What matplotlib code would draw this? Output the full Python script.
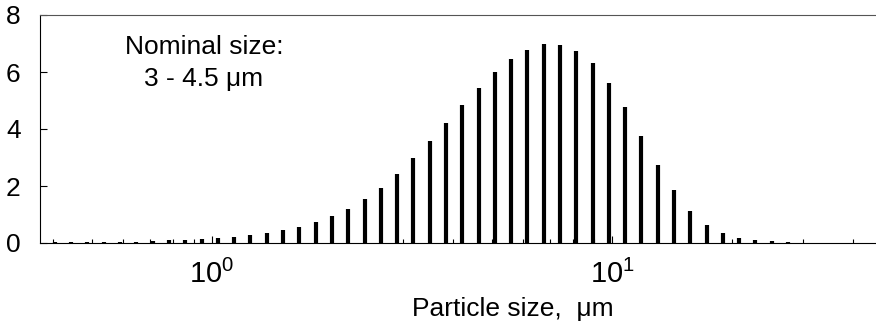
import matplotlib
matplotlib.use("Agg")
import matplotlib.pyplot as plt
from matplotlib.ticker import LogLocator, NullFormatter

plt.rcParams['font.family'] = ['Liberation Sans', 'DejaVu Sans']
plt.rcParams['mathtext.fontset'] = 'custom'
plt.rcParams['mathtext.rm'] = 'Liberation Sans'

# particle size channels (um) and frequency
sizes = [0.405, 0.445, 0.488, 0.537, 0.589, 0.647, 0.711, 0.781, 0.858, 0.942,
         1.035, 1.136, 1.247, 1.370, 1.504, 1.653, 1.816, 1.994, 2.190, 2.406,
         2.641, 2.901, 3.186, 3.499, 3.844, 4.222, 4.638, 5.093, 5.595, 6.144,
         6.745, 7.409, 8.137, 8.941, 9.817, 10.78, 11.84, 13.01, 14.29, 15.70,
         17.23, 18.92, 20.79, 22.83, 25.07, 27.54]
freq = [0.02, 0.02, 0.03, 0.03, 0.05, 0.05, 0.07, 0.09, 0.11, 0.14,
        0.18, 0.22, 0.27, 0.34, 0.46, 0.56, 0.73, 0.94, 1.19, 1.53,
        1.93, 2.42, 2.97, 3.57, 4.20, 4.84, 5.45, 6.01, 6.46, 6.78,
        6.97, 6.95, 6.74, 6.30, 5.62, 4.76, 3.75, 2.75, 1.85, 1.12,
        0.63, 0.34, 0.18, 0.10, 0.06, 0.03]
yticks = [0, 2, 4, 6, 8]

fig = plt.figure(figsize=(8.76, 3.27), dpi=100)
ax = fig.add_axes([40 / 876, 1 - 243 / 327, 1 - 40 / 876, 228 / 327])

ax.vlines(sizes, 0, freq, colors='black', linewidth=3)

ax.set_xscale('log')
ax.set_xlim(0.3715, 45.7)
ax.set_ylim(0, 8)
ax.set_yticks(yticks)
ax.xaxis.set_minor_locator(LogLocator(base=10, subs=range(2, 10)))
ax.xaxis.set_minor_formatter(NullFormatter())

ax.tick_params(axis='both', which='major', direction='in', length=5,
               width=0.8, labelsize=19)
ax.tick_params(axis='x', which='major', labelsize=21, pad=12)
ax.tick_params(axis='x', which='minor', direction='in', length=3, width=0.8)
ax.tick_params(axis='y', pad=14)

ax.spines['right'].set_visible(False)
ax.spines['top'].set_color('#555555')

# the original axes runs past the right edge, so the label sits right of centre
ax.set_xlabel('Particle size,  μm', fontsize=19)
ax.xaxis.set_label_coords(0.565, -0.235)

ax.text(0.196, 0.79, 'Nominal size:\n3 - 4.5 μm', transform=ax.transAxes,
        ha='center', va='center', fontsize=19, linespacing=1.45)

fig.savefig('out.png', dpi=100)
